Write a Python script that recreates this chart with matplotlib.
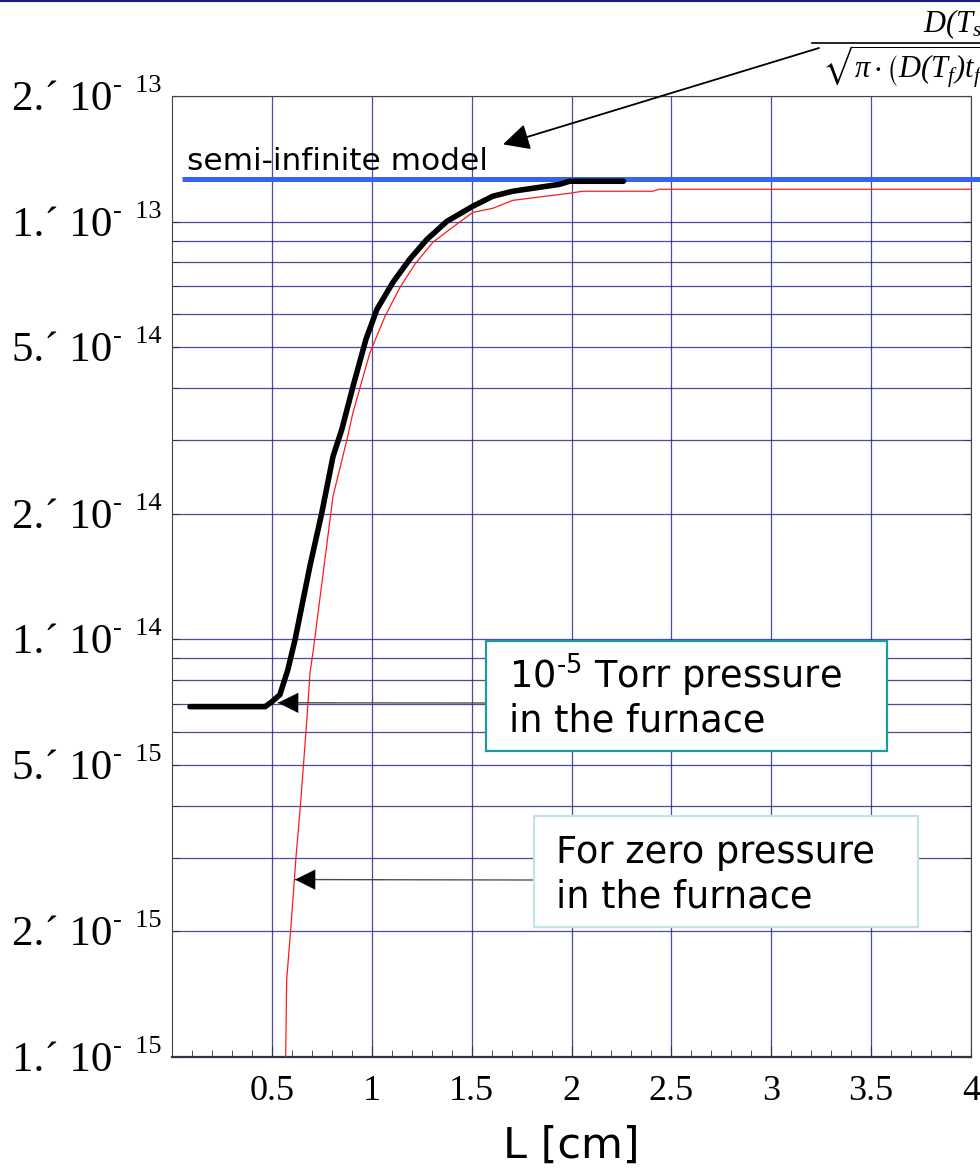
import matplotlib
matplotlib.use('Agg')
import matplotlib.pyplot as plt
import matplotlib.transforms as mtransforms
from matplotlib.patches import Rectangle
from matplotlib.lines import Line2D
import numpy as np

#%% Data
# 10^-5 Torr pressure in the furnace (thick black curve)
black_L = [0.09, 0.466, 0.50, 0.54, 0.58, 0.616, 0.69, 0.75, 0.806, 0.85,
           0.906, 0.971, 1.026, 1.106, 1.19, 1.276, 1.376, 1.506, 1.606,
           1.706, 1.94, 1.99, 2.26]
black_D = [6.90e-15, 6.90e-15, 7.09e-15, 7.37e-15, 8.46e-15, 9.98e-15,
           1.494e-14, 2.01e-14, 2.74e-14, 3.18e-14, 4.03e-14, 5.23e-14,
           6.17e-14, 7.16e-14, 8.13e-14, 9.07e-14, 1.002e-13, 1.089e-13,
           1.151e-13, 1.183e-13, 1.229e-13, 1.25e-13, 1.25e-13]

# zero pressure in the furnace (thin red curve)
red_L = [0.569, 0.574, 0.594, 0.621, 0.644, 0.674, 0.691, 0.707, 0.806,
         0.876, 0.906, 0.991, 1.066, 1.141, 1.216, 1.306, 1.391, 1.506,
         1.606, 1.706, 1.99, 2.056, 2.406, 2.44, 4.0]
red_D = [1.0e-15, 1.53e-15, 2.01e-15, 3.02e-15, 4.06e-15, 6.32e-15, 8.32e-15,
         9.4e-15, 2.20e-14, 3.01e-14, 3.49e-14, 4.86e-14, 5.93e-14, 6.96e-14,
         7.91e-14, 8.93e-14, 9.59e-14, 1.053e-13, 1.077e-13, 1.125e-13,
         1.17e-13, 1.183e-13, 1.183e-13, 1.196e-13, 1.196e-13]

# semi-infinite model level
semi_L = [0.05, 4.1]
semi_D = 1.263e-13

x_major = [0.5, 1, 1.5, 2, 2.5, 3, 3.5, 4]
x_major_labels = ['0.5', '1', '1.5', '2', '2.5', '3', '3.5', '4']
y_major = [1e-15, 2e-15, 5e-15, 1e-14, 2e-14, 5e-14, 1e-13, 2e-13]
y_mant = ['1', '2', '5', '1', '2', '5', '1', '2']
y_exp = ['15', '15', '15', '14', '14', '14', '13', '13']

#%% Figure
W, H = 980, 1174
plt.rcParams['mathtext.default'] = 'regular'
plt.rcParams['mathtext.fontset'] = 'stix'
fig = plt.figure(figsize=(W / 100, H / 100), dpi=100)
# pixel coords, origin top-left
pix = mtransforms.Affine2D().scale(1 / W, -1 / H).translate(0, 1) + fig.transFigure

AX_L, AX_R = 172, 971
ax = fig.add_axes([AX_L / W, 1 - 1057 / H, (AX_R - AX_L) / W, (1057 - 96) / H])
ax.set_yscale('log')
ax.set_xlim(0, 4)
ax.set_ylim(1e-15, 2e-13)

grid_col = '#1e1e8a'
ax.set_xticks(x_major)
ax.set_xticks(np.arange(0.1, 4.0, 0.1), minor=True)
ax.set_xticklabels(x_major_labels, family='Liberation Serif', fontsize=26)
minor_y = [m * 10.0 ** e for e in (-15, -14, -13) for m in (3, 4, 6, 7, 8, 9)]
ax.set_yticks(y_major)
ax.set_yticks([v for v in minor_y if v < 2e-13], minor=True)
ax.set_yticklabels([])
ax.tick_params(axis='both', which='both', direction='in', top=False, right=True,
               color='#333333')
ax.tick_params(axis='x', which='major', length=8, pad=13)
ax.tick_params(axis='x', which='minor', length=5)
ax.tick_params(axis='y', which='both', length=5)
ax.grid(True, which='both', color=grid_col, lw=0.9, alpha=0.8)
ax.grid(False, axis='x', which='minor')
for s in ax.spines.values():
    s.set_color('#444444')
ax.spines['bottom'].set_linewidth(1.6)
ax.spines['bottom'].set_color('#333344')

# y tick labels in the old "2.´ 10^- 13" style
ytr = ax.get_yaxis_transform()
for v, m, e in zip(y_major, y_mant, y_exp):
    main_tr = mtransforms.offset_copy(ytr, fig=fig, y=-14, units='dots')
    sup_tr = mtransforms.offset_copy(ytr, fig=fig, y=4, units='dots')
    ax.text((112 - AX_L) / (AX_R - AX_L), v, f'{m}.\u00b4 10', transform=main_tr,
            ha='right', va='baseline', family='Liberation Serif', fontsize=31,
            clip_on=False)
    ax.text((113 - AX_L) / (AX_R - AX_L), v, f'-  {e}', transform=sup_tr,
            ha='left', va='baseline', family='Liberation Serif', fontsize=19,
            clip_on=False)

ax.plot(semi_L, [semi_D, semi_D], color='#3565f0', lw=3.6, clip_on=False,
        solid_capstyle='butt', zorder=4)
ax.plot(red_L, red_D, color='#ff1a1a', lw=0.9, zorder=3)
ax.plot(black_L, black_D, color='black', lw=4, zorder=5,
        solid_capstyle='round', solid_joinstyle='round')

ax.set_xlabel('L [cm]', family='DejaVu Sans', fontsize=31, labelpad=12)

fig.text(187, 170, 'semi-infinite model', transform=pix, family='DejaVu Sans',
         fontsize=22.5, va='baseline', ha='left')

#%% Annotation boxes
fig.patches.append(Rectangle((486, 641), 401, 110, transform=pix, fc='white',
                             ec='#1f9b9b', lw=1.6, zorder=6))
fig.patches.append(Rectangle((534, 816), 384, 111, transform=pix, fc='white',
                             ec='#c2e4e4', lw=1.6, zorder=6))
fig.text(509, 688, '10$^{\u20105}$ Torr pressure', transform=pix,
         family='DejaVu Sans', fontsize=26.5, va='baseline', zorder=7)
fig.text(509, 732, 'in the furnace', transform=pix, family='DejaVu Sans',
         fontsize=26.5, va='baseline', zorder=7)
fig.text(556, 863, 'For zero pressure', transform=pix, family='DejaVu Sans',
         fontsize=26.5, va='baseline', zorder=7)
fig.text(556, 908, 'in the furnace', transform=pix, family='DejaVu Sans',
         fontsize=26.5, va='baseline', zorder=7)

arr = '-|>,head_length=0.9,head_width=0.45'
ax.annotate('', xy=(1.657, 1.532e-13), xytext=(819, 48), textcoords=pix,
            arrowprops=dict(arrowstyle=arr, mutation_scale=18, color='black',
                            lw=1.3, shrinkA=0, shrinkB=0), annotation_clip=False)
# thin grey leaders with black heads
for tip, tail in [((0.531, 7.05e-15), (486, 703)), ((0.616, 2.66e-15), (534, 880))]:
    ax.annotate('', xy=tip, xytext=tail, textcoords=pix,
                arrowprops=dict(arrowstyle='-', color='#555555', lw=1.0,
                                shrinkA=0, shrinkB=0))
    ax.annotate('', xy=tip, xytext=(tail[0] - 150, tail[1]), textcoords=pix,
                arrowprops=dict(arrowstyle=arr, mutation_scale=16, color='black',
                                lw=0.1, shrinkA=0, shrinkB=0))

#%% Formula (cut off by the right edge, as in the slide)
fig.text(923, 32, r'$D(T_s)$', transform=pix, fontsize=22, va='baseline',
         ha='left', family='Liberation Serif', style='italic')
fig.add_artist(Line2D([812, 990], [43, 43], transform=pix, color='black', lw=1.2))
fig.text(822, 78, r'$\sqrt{\pi\cdot\left(D(T_f)t_f\right)}$', transform=pix,
         fontsize=22, va='baseline', ha='left', family='Liberation Serif',
         style='italic')
fig.add_artist(Line2D([0, W], [1, 1], transform=pix, color='#1a1a8c', lw=1.5))

plt.savefig('out.png', dpi=100)
